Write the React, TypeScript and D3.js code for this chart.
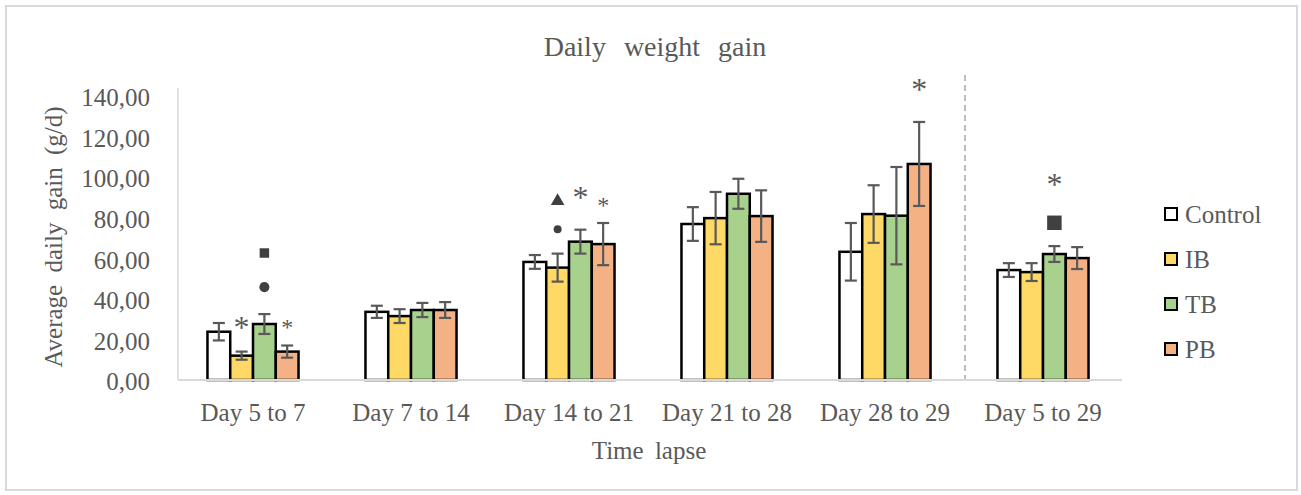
import * as d3 from 'd3';

// categories and series
const categories = ['Day 5 to 7', 'Day 7 to 14', 'Day 14 to 21', 'Day 21 to 28', 'Day 28 to 29', 'Day 5 to 29'];
const seriesNames = ['Control', 'IB', 'TB', 'PB'];
const seriesColors = ['#ffffff', '#ffd966', '#a9d18e', '#f4b183'];

// means and error (± SE)
const controlMean = [23.8, 33.6, 58.2, 76.9, 63.2, 54.2];
const controlErr = [4.3, 3.0, 3.4, 8.3, 14.2, 3.4];
const ibMean = [12.0, 31.5, 55.4, 79.8, 81.8, 53.2];
const ibErr = [2.0, 3.4, 6.9, 12.9, 14.2, 4.4];
const tbMean = [27.6, 34.5, 68.2, 91.8, 81.0, 62.1];
const tbErr = [4.9, 3.5, 5.9, 7.4, 24.0, 3.9];
const pbMean = [14.0, 34.5, 67.0, 80.8, 106.5, 60.1];
const pbErr = [3.0, 3.9, 10.4, 12.7, 20.7, 5.4];

const yTicks = [0, 20, 40, 60, 80, 100, 120, 140];

// significance marks: category, series, height (in g/d), kind
const marks = [
  { cat: 'Day 5 to 7', series: 'IB', value: 28.2, kind: 'star' },
  { cat: 'Day 5 to 7', series: 'PB', value: 27.6, kind: 'smallstar' },
  { cat: 'Day 5 to 7', series: 'TB', value: 45.8, kind: 'circle' },
  { cat: 'Day 5 to 7', series: 'TB', value: 62.6, kind: 'square' },
  { cat: 'Day 14 to 21', series: 'IB', value: 88.2, kind: 'triangle' },
  { cat: 'Day 14 to 21', series: 'IB', value: 74.3, kind: 'dot' },
  { cat: 'Day 14 to 21', series: 'TB', value: 92.0, kind: 'star' },
  { cat: 'Day 14 to 21', series: 'PB', value: 87.9, kind: 'smallstar' },
  { cat: 'Day 28 to 29', series: 'PB', value: 145.4, kind: 'star' },
  { cat: 'Day 5 to 29', series: 'TB', value: 98.6, kind: 'star' },
  { cat: 'Day 5 to 29', series: 'TB', value: 77.5, kind: 'bigsquare' },
];

const means = [controlMean, ibMean, tbMean, pbMean];
const errs = [controlErr, ibErr, tbErr, pbErr];

const W = 1301;
const H = 495;
const font = '"Liberation Serif", "Times New Roman", serif';
const textColor = '#595959';

export default function App() {
  const x0 = d3.scaleBand().domain(categories).range([174, 1122]).padding(0);
  const x1 = d3.scaleBand().domain(seriesNames).range([0, x0.bandwidth()]).paddingOuter(1.47).paddingInner(0);
  const y = d3.scaleLinear().domain([0, 140]).range([380, 96]);
  const fmt = (v: number) => d3.format('.2f')(v).replace('.', ',');
  const bw = x1.bandwidth();
  const axisX = 178;

  const symbolPath = (kind: string) => {
    if (kind === 'circle') return d3.symbol(d3.symbolCircle, 80)();
    if (kind === 'dot') return d3.symbol(d3.symbolCircle, 50)();
    if (kind === 'square') return d3.symbol(d3.symbolSquare, 90)();
    if (kind === 'bigsquare') return d3.symbol(d3.symbolSquare, 210)();
    if (kind === 'triangle') return d3.symbol(d3.symbolTriangle, 80)();
    return null;
  };

  return (
    <svg width={W} height={H} style={{ position: 'absolute', left: 0, top: 0, background: '#fff' }}>
      <rect x={6} y={6} width={1291} height={484} fill="#fff" stroke="#d9d9d9" strokeWidth={2} />

      <text x={655} y={56} textAnchor="middle" fontFamily={font} fontSize={28} fill={textColor} wordSpacing={11}>
        Daily weight gain
      </text>

      {/* y axis */}
      <line x1={axisX} x2={axisX} y1={y(0)} y2={y(140) - 8} stroke="#d9d9d9" strokeWidth={1.5} />
      {yTicks.map((t) => (
        <text key={t} x={150} y={y(t) + 1.5} dy="0.35em" textAnchor="end" fontFamily={font} fontSize={25} fill={textColor}>
          {fmt(t)}
        </text>
      ))}
      <text
        transform={`translate(62,237) rotate(-90)`}
        textAnchor="middle"
        fontFamily={font}
        fontSize={25}
        fill={textColor}
        wordSpacing={6}
      >
        Average daily gain (g/d)
      </text>

      {/* separator */}
      <line
        x1={x0('Day 5 to 29')! + 1}
        x2={x0('Day 5 to 29')! + 1}
        y1={75}
        y2={y(0)}
        stroke="#a6a6a6"
        strokeWidth={1.5}
        strokeDasharray="6 4"
      />

      {/* bars */}
      {categories.map((c, ci) => (
        <g key={c} transform={`translate(${x0(c)},0)`}>
          {seriesNames.map((s, si) => {
            const v = means[si][ci];
            const e = errs[si][ci];
            const bx = x1(s)!;
            const cx = bx + bw / 2;
            return (
              <g key={s}>
                <rect x={bx} y={y(v)} width={bw} height={y(0) - y(v)} fill={seriesColors[si]} stroke="#000" strokeWidth={2.5} />
                <g stroke="#595959" strokeWidth={2.2}>
                  <line x1={cx} x2={cx} y1={y(v + e)} y2={y(v - e)} />
                  <line x1={cx - 6} x2={cx + 6} y1={y(v + e)} y2={y(v + e)} />
                  <line x1={cx - 6} x2={cx + 6} y1={y(v - e)} y2={y(v - e)} />
                </g>
              </g>
            );
          })}
          <text x={x0.bandwidth() / 2} y={421} textAnchor="middle" fontFamily={font} fontSize={25} fill={textColor}>
            {c}
          </text>
        </g>
      ))}

      {/* x axis */}
      <line x1={axisX} x2={x0.range()[1]} y1={y(0)} y2={y(0)} stroke="#d9d9d9" strokeWidth={2} />

      {/* significance marks */}
      {marks.map((m, i) => {
        const cx = x0(m.cat)! + x1(m.series)! + bw / 2;
        const cy = y(m.value);
        if (m.kind === 'star' || m.kind === 'smallstar') {
          const fs = m.kind === 'star' ? 32 : 24;
          return (
            <text key={i} x={cx} y={cy + fs * 0.47} textAnchor="middle" fontFamily={font} fontSize={fs} fill={textColor}>
              *
            </text>
          );
        }
        return <path key={i} d={symbolPath(m.kind)!} transform={`translate(${cx},${cy})`} fill="#404040" />;
      })}

      <text x={649} y={459} textAnchor="middle" fontFamily={font} fontSize={25} fill={textColor} wordSpacing={5}>
        Time lapse
      </text>

      {/* legend */}
      {seriesNames.map((s, i) => (
        <g key={s} transform={`translate(1165,${214 + i * 45})`}>
          <rect x={0} y={-6} width={12} height={12} fill={seriesColors[i]} stroke="#000" strokeWidth={2} />
          <text x={20} y={0} dy="0.35em" fontFamily={font} fontSize={25} fill={textColor}>
            {s}
          </text>
        </g>
      ))}
    </svg>
  );
}
